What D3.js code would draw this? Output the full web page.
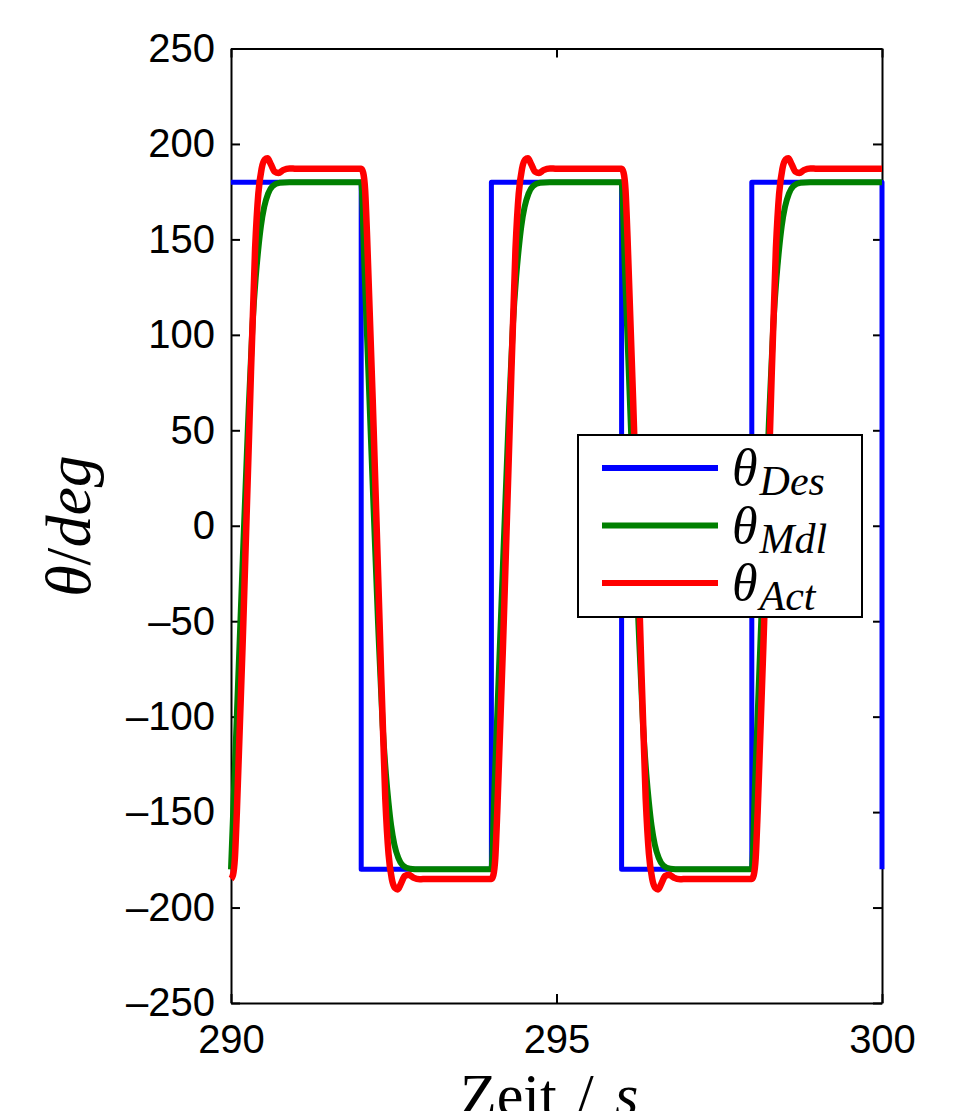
<!DOCTYPE html>
<html>
<head>
<meta charset="utf-8">
<script src="https://cdn.jsdelivr.net/npm/d3@7"></script>
<style>
  body { margin: 0; background: #fff; }
  svg { display: block; }
  .axis .tick text { font-family: "Liberation Sans", Arial, sans-serif; font-size: 40px; fill: #000; }
  .axis path, .axis line { stroke: #000; stroke-width: 2; }
  .math { font-family: "Liberation Serif", "Times New Roman", serif; fill: #000; }
</style>
</head>
<body>
<svg id="chart" width="959" height="1111"></svg>
<script>
  // ===== data =====

  // theta_Des : square wave set point
  var desTime = [290, 292, 292, 294, 294, 296, 296, 298, 298, 300, 300];
  var desVal  = [180, 180, -180, -180, 180, 180, -180, -180, 180, 180, -180];

  // theta_Mdl : model response
  var mdlTime = [
    290.00, 290.05, 290.15, 290.26, 290.33, 290.38, 290.42, 290.46, 290.51, 290.57, 290.64, 290.75, 290.90,
    292.00, 292.05, 292.15, 292.26, 292.33, 292.38, 292.42, 292.46, 292.51, 292.57, 292.64, 292.75, 292.90,
    294.00, 294.05, 294.15, 294.26, 294.33, 294.38, 294.42, 294.46, 294.51, 294.57, 294.64, 294.75, 294.90,
    296.00, 296.05, 296.15, 296.26, 296.33, 296.38, 296.42, 296.46, 296.51, 296.57, 296.64, 296.75, 296.90,
    298.00, 298.05, 298.15, 298.26, 298.33, 298.38, 298.42, 298.46, 298.51, 298.57, 298.64, 298.75, 298.90,
    300.00
  ];
  var mdlVal = [
    -180, -135, -45, 52, 105, 130, 145, 157, 167, 174, 178, 179.7, 180,
    180, 135, 45, -52, -105, -130, -145, -157, -167, -174, -178, -179.7, -180,
    -180, -135, -45, 52, 105, 130, 145, 157, 167, 174, 178, 179.7, 180,
    180, 135, 45, -52, -105, -130, -145, -157, -167, -174, -178, -179.7, -180,
    -180, -135, -45, 52, 105, 130, 145, 157, 167, 174, 178, 179.7, 180,
    180
  ];

  // theta_Act : measured response
  var actTime = [
    290.00, 290.03, 290.06, 290.09, 290.19, 290.28, 290.37, 290.42, 290.47, 290.52, 290.56, 290.61, 290.67, 290.73, 290.80, 290.90, 291.00,
    292.00, 292.03, 292.06, 292.09, 292.19, 292.28, 292.37, 292.42, 292.47, 292.52, 292.56, 292.61, 292.67, 292.73, 292.80, 292.90, 293.00,
    294.00, 294.03, 294.06, 294.09, 294.19, 294.28, 294.37, 294.42, 294.47, 294.52, 294.56, 294.61, 294.67, 294.73, 294.80, 294.90, 295.00,
    296.00, 296.03, 296.06, 296.09, 296.19, 296.28, 296.37, 296.42, 296.47, 296.52, 296.56, 296.61, 296.67, 296.73, 296.80, 296.90, 297.00,
    298.00, 298.03, 298.06, 298.09, 298.19, 298.28, 298.37, 298.42, 298.47, 298.52, 298.56, 298.61, 298.67, 298.73, 298.80, 298.90, 299.00,
    300.00
  ];
  var actVal = [
    -185, -183, -174, -150, -50, 50, 145, 174, 187, 191.8, 192.5, 189.5, 185.5, 184.8, 186.3, 187.2, 187,
    187, 185, 176, 152, 52, -48, -143, -172, -185, -189.8, -190.5, -187.5, -183.5, -182.8, -184.3, -185.2, -185,
    -185, -183, -174, -150, -50, 50, 145, 174, 187, 191.8, 192.5, 189.5, 185.5, 184.8, 186.3, 187.2, 187,
    187, 185, 176, 152, 52, -48, -143, -172, -185, -189.8, -190.5, -187.5, -183.5, -182.8, -184.3, -185.2, -185,
    -185, -183, -174, -150, -50, 50, 145, 174, 187, 191.8, 192.5, 189.5, 185.5, 184.8, 186.3, 187.2, 187,
    187
  ];

  var xTicks = [290, 295, 300];
  var yTicks = [-250, -200, -150, -100, -50, 0, 50, 100, 150, 200, 250];

  var seriesNames = ['Des', 'Mdl', 'Act'];
  var seriesColors = ['#0000ff', '#008000', '#ff0000'];

  // ===== layout =====
  var plotLeft = 231, plotRight = 882, plotTop = 48.5, plotBottom = 1003;

  var svg = d3.select('#chart');

  var x = d3.scaleLinear().domain([290, 300]).range([plotLeft, plotRight]);
  var y = d3.scaleLinear().domain([-250, 250]).range([plotBottom, plotTop]);

  function fmt(d) { return d < 0 ? '\u2013' + Math.abs(d) : String(d); }

  // axes (ticks point inward, like matlab)
  svg.append('g').attr('class', 'axis')
    .attr('transform', 'translate(' + plotLeft + ',0)')
    .call(d3.axisLeft(y).tickValues(yTicks).tickFormat(fmt).tickSizeInner(-9).tickSizeOuter(0).tickPadding(16));

  svg.append('g').attr('class', 'axis')
    .attr('transform', 'translate(' + plotRight + ',0)')
    .call(d3.axisRight(y).tickValues(yTicks).tickFormat('').tickSizeInner(-9).tickSizeOuter(0));

  svg.append('g').attr('class', 'axis')
    .attr('transform', 'translate(0,' + plotBottom + ')')
    .call(d3.axisBottom(x).tickValues(xTicks).tickFormat(fmt).tickSizeInner(-9).tickSizeOuter(0).tickPadding(22));

  svg.append('g').attr('class', 'axis')
    .attr('transform', 'translate(0,' + plotTop + ')')
    .call(d3.axisTop(x).tickValues(xTicks).tickFormat('').tickSizeInner(-9).tickSizeOuter(0));

  svg.selectAll('.axis .tick text').attr('fill', '#000');

  // ===== lines =====
  function zipSeries(ts, vs) {
    return ts.map(function (t, i) { return { t: t, v: vs[i] }; });
  }

  var stepLine = d3.line()
    .x(function (d) { return x(d.t); })
    .y(function (d) { return y(d.v); });

  var smoothLine = d3.line()
    .curve(d3.curveMonotoneX)
    .x(function (d) { return x(d.t); })
    .y(function (d) { return y(d.v); });

  var lines = svg.append('g').attr('fill', 'none').attr('stroke-linejoin', 'round');

  lines.append('path')
    .attr('d', stepLine(zipSeries(desTime, desVal)))
    .attr('stroke', seriesColors[0])
    .attr('stroke-width', 5);

  lines.append('path')
    .attr('d', smoothLine(zipSeries(mdlTime, mdlVal)))
    .attr('stroke', seriesColors[1])
    .attr('stroke-width', 6);

  lines.append('path')
    .attr('d', smoothLine(zipSeries(actTime, actVal)))
    .attr('stroke', seriesColors[2])
    .attr('stroke-width', 6.5);

  // ===== legend =====
  var legend = svg.append('g').attr('transform', 'translate(578,435)');
  legend.append('rect')
    .attr('width', 284).attr('height', 182)
    .attr('fill', '#fff').attr('stroke', '#000').attr('stroke-width', 2);

  seriesNames.forEach(function (name, i) {
    var ly = 33 + i * 57.5;
    legend.append('line')
      .attr('x1', 24).attr('x2', 140)
      .attr('y1', ly).attr('y2', ly)
      .attr('stroke', seriesColors[i]).attr('stroke-width', 6);
    var txt = legend.append('text').attr('class', 'math')
      .attr('x', 154).attr('y', ly + 17)
      .style('font-style', 'italic');
    txt.append('tspan').attr('font-size', 52).text('\u03b8');
    txt.append('tspan').attr('font-size', 42).attr('dy', 10).attr('dx', 2).text(name);
  });

  // ===== axis labels =====
  var yLabel = svg.append('text').attr('class', 'math')
    .attr('transform', 'translate(90,526) rotate(-90)')
    .attr('text-anchor', 'middle')
    .attr('font-size', 64);
  yLabel.append('tspan').style('font-style', 'italic').text('\u03b8');
  yLabel.append('tspan').text('/');
  yLabel.append('tspan').style('font-style', 'italic').text('deg');

  svg.append('text').attr('class', 'math')
    .attr('x', 460).attr('y', 1115).attr('font-size', 60).text('Zeit');
  svg.append('text').attr('class', 'math')
    .attr('x', 577).attr('y', 1115).attr('font-size', 60).text('/');
  svg.append('text').attr('class', 'math')
    .attr('x', 615).attr('y', 1115).attr('font-size', 60).style('font-style', 'italic').text('s');
</script>
</body>
</html>
